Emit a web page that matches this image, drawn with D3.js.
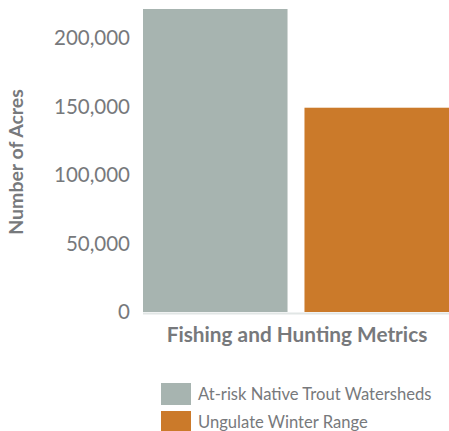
<!DOCTYPE html>
<html>
<head>
<meta charset="utf-8">
<script src="https://cdn.jsdelivr.net/npm/d3@7"></script>
<style>
  body { margin: 0; background: #fff; }
  svg text { font-family: Lato, "Open Sans", sans-serif; }
</style>
</head>
<body>
<div id="chart"></div>
<script>
"use strict"

// chart data
let categories = ["At-risk Native Trout Watersheds", "Ungulate Winter Range"];
let acres = [221000, 149000];
let colors = ["#a7b4b0", "#cb7a2a"];
let yTicks = [0, 50000, 100000, 150000, 200000];

let width = 449,
    height = 431;

let svg = d3.select("#chart")
    .append("svg")
    .attr("width", width)
    .attr("height", height);

// scales
let x = d3.scaleBand()
    .domain(categories)
    .range([143, 449])
    .paddingInner(0.105);

let y = d3.scaleLinear()
    .domain([0, d3.max(acres)])
    .range([312, 9]);

// y axis, labels only
let yAxis = svg.append("g")
    .attr("transform", "translate(130,0)")
    .call(d3.axisLeft(y).tickValues(yTicks).tickSize(0).tickPadding(0).tickFormat(d3.format(",")));
yAxis.select(".domain").remove();
yAxis.selectAll("text")
    .attr("fill", "#77797c")
    .style("font-size", "20.5px")
    .attr("dy", "0.34em");

// bars
svg.selectAll(".bar")
    .data(categories)
    .enter()
    .append("rect")
    .attr("class", "bar")
    .attr("x", function (d) { return x(d); })
    .attr("width", x.bandwidth())
    .attr("y", function (d, i) { return y(acres[i]); })
    .attr("height", function (d, i) { return y(0) - y(acres[i]); })
    .attr("fill", function (d, i) { return colors[i]; });

// baseline
svg.append("line")
    .attr("x1", 143)
    .attr("x2", 449)
    .attr("y1", y(0) + 1.5)
    .attr("y2", y(0) + 1.5)
    .attr("stroke", "#e1e6e5")
    .attr("stroke-width", 2);

// axis titles
svg.append("text")
    .attr("transform", "translate(23,162) rotate(-90)")
    .attr("text-anchor", "middle")
    .attr("fill", "#77797c")
    .style("font-size", "19.5px")
    .style("font-weight", "bold")
    .text("Number of Acres");

svg.append("text")
    .attr("x", 297)
    .attr("y", 342)
    .attr("text-anchor", "middle")
    .attr("fill", "#77797c")
    .style("font-size", "20.8px")
    .style("font-weight", "bold")
    .text("Fishing and Hunting Metrics");

// legend
let legend = svg.selectAll(".legend")
    .data(categories)
    .enter()
    .append("g")
    .attr("class", "legend")
    .attr("transform", function (d, i) { return "translate(161," + (383 + i * 28) + ")"; });

legend.append("rect")
    .attr("width", 30)
    .attr("height", 22)
    .attr("fill", function (d, i) { return colors[i]; });

legend.append("text")
    .attr("x", 37)
    .attr("y", 11)
    .attr("dy", "0.36em")
    .attr("fill", "#77797c")
    .style("font-size", "16.6px")
    .text(function (d) { return d; });
</script>
</body>
</html>
